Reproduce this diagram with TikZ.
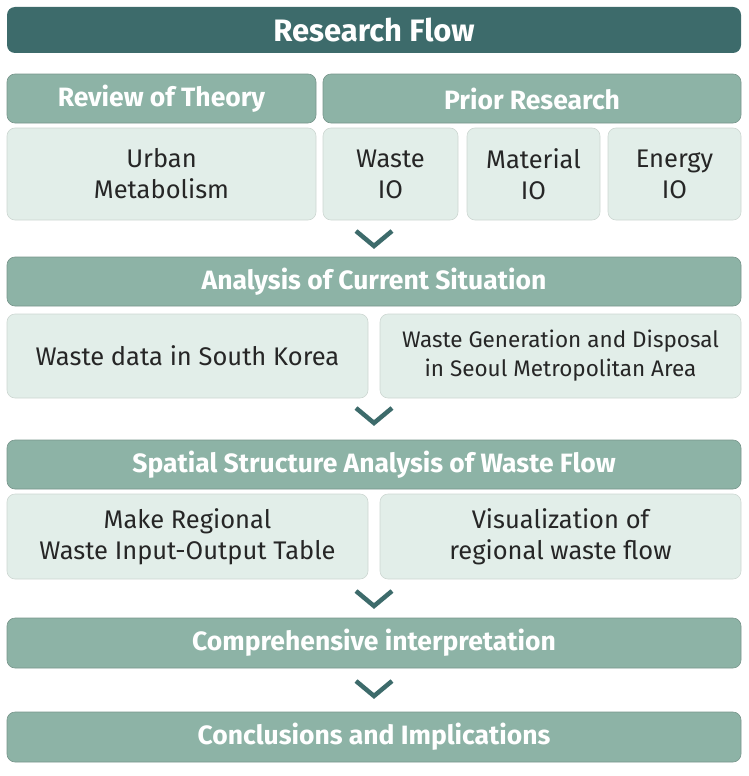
\documentclass[tikz,border=0pt]{standalone}
\usepackage{fontspec}
\setmainfont{Fira Sans}
\begin{document}
\begin{tikzpicture}[x=1pt,y=-1pt,
  dk/.style={fill={rgb,255:red,61;green,107;blue,107}},
  hd/.style={fill={rgb,255:red,141;green,179;blue,166},draw={rgb,255:red,120;green,150;blue,140},line width=0.6pt},
  lt/.style={fill={rgb,255:red,226;green,238;blue,233},draw={rgb,255:red,205;green,215;blue,210},line width=0.6pt},
  ht/.style={font=\fontsize{26.5}{30}\selectfont\bfseries,text=white},
  bt/.style={font=\fontsize{25.5}{31}\selectfont,text=black!85,align=center},
  chev/.style={draw={rgb,255:red,61;green,107;blue,107},line width=4.5pt}]
\useasboundingbox (0,0) rectangle (749,776);
\newcommand\bx[6]{\path[#1,rounded corners=8pt] (#2,#3) rectangle (#4,#5); \node[#6] at ({(#2+#4)/2},{(#3+#5)/2})}
\bx{dk}{7}{7}{741}{53}{}(t){\fontsize{31}{33}\selectfont\bfseries\color{white}Research Flow};
\bx{hd}{7}{74}{316}{123}{ht}(h1){Review of Theory};
\bx{hd}{323}{74}{741}{123}{ht}(h2){Prior Research};
\bx{lt}{7}{128}{316}{220}{bt}(b1){Urban\\Metabolism};
\bx{lt}{323}{128}{458}{220}{bt}(b2){Waste\\IO};
\bx{lt}{467}{128}{600}{220}{bt}(b3){Material\\IO};
\bx{lt}{608}{128}{741}{220}{bt}(b4){Energy\\IO};
\bx{hd}{7}{257}{741}{306}{ht}(h3){Analysis of Current Situation};
\bx{lt}{7}{314}{368}{398}{bt}(b5){Waste data in South Korea};
\bx{lt}{380}{314}{741}{398}{bt,font=\fontsize{22.5}{29}\selectfont}(b6){Waste Generation and Disposal\\in Seoul Metropolitan Area};
\bx{hd}{7}{440}{741}{489}{ht}(h4){Spatial Structure Analysis of Waste Flow};
\bx{lt}{7}{494}{368}{579}{bt}(b7){Make Regional\\Waste Input-Output Table};
\bx{lt}{380}{494}{741}{579}{bt}(b8){Visualization of\\regional waste flow};
\bx{hd}{7}{618}{741}{668}{ht}(h5){Comprehensive interpretation};
\bx{hd}{7}{712}{741}{762}{ht}(h6){Conclusions and Implications};
\foreach \y in {231,408,591,681}{
  \draw[chev] (356,\y) -- (374,\y+15) -- (392,\y);
}
\end{tikzpicture}
\end{document}
